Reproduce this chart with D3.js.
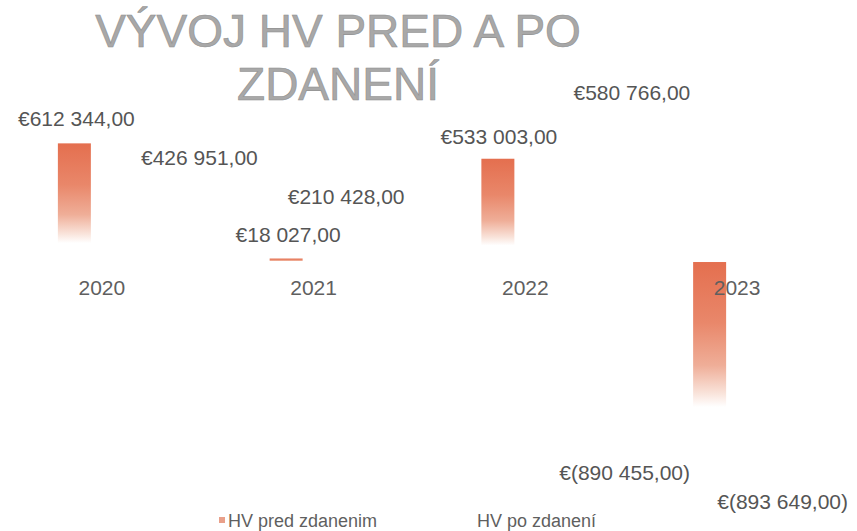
<!DOCTYPE html>
<html>
<head>
<meta charset="utf-8">
<script src="https://cdnjs.cloudflare.com/ajax/libs/d3/7.8.5/d3.min.js"></script>
<style>
  body { margin: 0; background: #fff; }
  svg { display: block; font-family: "Liberation Sans", Arial, sans-serif; }
</style>
</head>
<body>
<div id="chart"></div>
<script>
// chart data
var categories = ["2020", "2021", "2022", "2023"];
var hvPred = [612344, 18027, 533003, -890455];
var hvPo = [426951, 210428, 580766, -893649];
var seriesNames = ["HV pred zdanenim", "HV po zdanení"];
var titleLines = ["VÝVOJ HV PRED A PO", "ZDANENÍ"];

// labels in the original were dragged around by hand, these are the nudges [dx, dy]
var predLabelShift = [[2, -1], [2, -1], [1, 1], [-85, 12]];
var poLabelShift = [[70, 2], [5, -1], [79, -33], [18, 41]];

var width = 857;
var height = 531;

var svg = d3.select("#chart")
    .append("svg")
    .attr("width", width)
    .attr("height", height);

var defs = svg.append("defs");
var grad = defs.append("linearGradient")
    .attr("id", "predFill")
    .attr("x1", 0).attr("y1", 0)
    .attr("x2", 0).attr("y2", 1);
grad.append("stop").attr("offset", "0%").attr("stop-color", "#e46f4f");
grad.append("stop").attr("offset", "35%").attr("stop-color", "#e9876a");
grad.append("stop").attr("offset", "60%").attr("stop-color", "#efae98");
grad.append("stop").attr("offset", "76%").attr("stop-color", "#f9e3da");
grad.append("stop").attr("offset", "84%").attr("stop-color", "#ffffff");

var x = d3.scaleBand()
    .domain(categories)
    .range([-4, 843])
    .padding(0);

var y = d3.scaleLinear()
    .domain([-1000000, 800000])
    .range([455.8, 107]);

var barW = 33;
var barGap = 11;

var nf = d3.formatLocale({
    decimal: ",",
    thousands: " ",
    grouping: [3],
    currency: ["€", ""]
}).format(",.2f");

function euro(v) {
    return v < 0 ? "€(" + nf(-v) + ")" : "€" + nf(v);
}

var rows = categories.map(function(c, i) {
    return { cat: c, pred: hvPred[i], po: hvPo[i], i: i };
});

// title
var title = svg.append("text")
    .attr("x", 338)
    .attr("text-anchor", "middle")
    .style("font-size", "46px")
    .style("fill", "#a8a8a8")
    .style("stroke", "#8e8e8e")
    .style("stroke-width", 0.6);
title.selectAll("tspan")
    .data(titleLines)
    .enter().append("tspan")
    .attr("x", 338)
    .attr("y", function(d, i) { return 47 + i * 53; })
    .text(function(d) { return d; });

// bars
function barX(d, s) {
    var c = x(d.cat) + x.bandwidth() / 2;
    return s == 0 ? c - barGap - barW : c + barGap;
}

svg.selectAll(".bar-po")
    .data(rows)
    .enter().append("rect")
    .attr("class", "bar-po")
    .attr("x", function(d) { return barX(d, 1); })
    .attr("width", barW)
    .attr("y", function(d) { return Math.min(y(d.po), y(0)); })
    .attr("height", function(d) { return Math.abs(y(d.po) - y(0)); })
    .style("fill", "#ffffff");

svg.selectAll(".bar-pred")
    .data(rows)
    .enter().append("rect")
    .attr("class", "bar-pred")
    .attr("x", function(d) { return barX(d, 0); })
    .attr("width", barW)
    .attr("y", function(d) { return Math.min(y(d.pred), y(0)); })
    .attr("height", function(d) { return Math.abs(y(d.pred) - y(0)); })
    .style("fill", "url(#predFill)");

// category axis (no line, no ticks)
var xAxis = d3.axisBottom(x).tickSize(0).tickPadding(3);
var ax = svg.append("g")
    .attr("class", "xAxis")
    .attr("transform", "translate(0, 277)")
    .call(xAxis);
ax.select(".domain").remove();
ax.selectAll("text")
    .style("font-size", "21px")
    .style("font-family", "Liberation Sans, Arial, sans-serif")
    .style("fill", "#5f5f5f");

// data labels
function labelY(v) {
    return v >= 0 ? y(v) - 16 : y(v) + 33;
}

[["pred", predLabelShift, 0], ["po", poLabelShift, 1]].forEach(function(s) {
    var key = s[0], shift = s[1], idx = s[2];
    svg.selectAll(".lbl-" + key)
        .data(rows)
        .enter().append("text")
        .attr("class", "lbl-" + key)
        .attr("x", function(d) { return barX(d, idx) + barW / 2 + shift[d.i][0]; })
        .attr("y", function(d) { return labelY(d[key]) + shift[d.i][1]; })
        .attr("text-anchor", "middle")
        .style("font-size", "21px")
        .style("fill", "#555555")
        .text(function(d) { return euro(d[key]); });
});

// legend
var legend = svg.append("g").attr("transform", "translate(219, 527)");
var legendX = [0, 249];
var legendColors = ["#e9a08a", "#ffffff"];
var items = legend.selectAll(".item")
    .data(seriesNames)
    .enter().append("g")
    .attr("class", "item")
    .attr("transform", function(d, i) { return "translate(" + legendX[i] + ",0)"; });
items.append("rect")
    .attr("x", 0)
    .attr("y", -10)
    .attr("width", 6)
    .attr("height", 6)
    .style("fill", function(d, i) { return legendColors[i]; });
items.append("text")
    .attr("x", 9)
    .attr("y", 0)
    .style("font-size", "18px")
    .style("fill", "#5f5f5f")
    .text(function(d) { return d; });
</script>
</body>
</html>
